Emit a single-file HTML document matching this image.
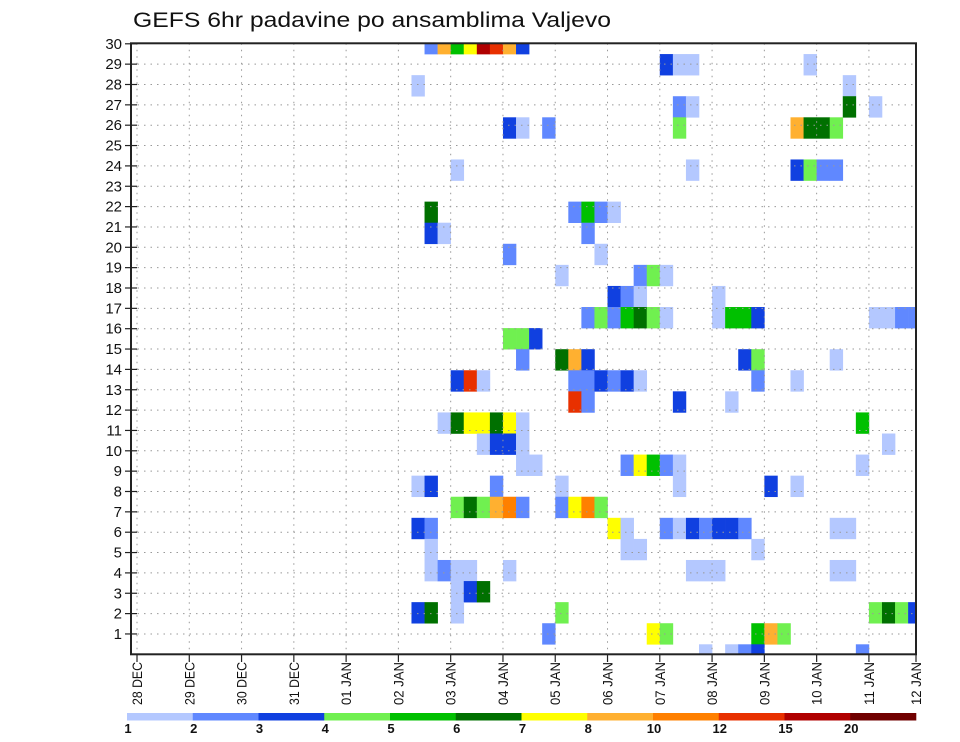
<!DOCTYPE html>
<html><head><meta charset="utf-8"><style>
html,body{margin:0;padding:0;background:#fff;}
svg{display:block;font-family:"Liberation Sans",sans-serif;}
</style></head><body>
<svg id="chart" width="960" height="742" viewBox="0 0 960 742" xmlns="http://www.w3.org/2000/svg">
<text x="133" y="27" font-size="21" textLength="478" lengthAdjust="spacingAndGlyphs" fill="#111">GEFS 6hr padavine po ansamblima Valjevo</text>
<defs><clipPath id="plotclip"><rect x="131" y="43.3" width="785" height="611"/></clipPath></defs>
<g id="cells" clip-path="url(#plotclip)"></g>
<g id="grid"></g>
<rect x="131" y="43.3" width="785" height="611" fill="none" stroke="#222" stroke-width="2"/>
<g id="yaxis"></g>
<g id="xaxis"></g>
<g id="colorbar"></g>
</svg>
<script>
const dayLabels = ["28 DEC","29 DEC","30 DEC","31 DEC","01 JAN","02 JAN","03 JAN","04 JAN","05 JAN","06 JAN","07 JAN","08 JAN","09 JAN","10 JAN","11 JAN","12 JAN"];
const yTicks = [1,2,3,4,5,6,7,8,9,10,11,12,13,14,15,16,17,18,19,20,21,22,23,24,25,26,27,28,29,30];
const levelLabels = ["1","2","3","4","5","6","7","8","10","12","15","20"];
const levelColors = ["#b4c8ff","#6088ff","#1040e0","#70f050","#00c000","#007000","#ffff00","#ffb030","#ff8000","#e83000","#b00000","#700000"];
// cell data: member slot (0 = bottom), 6-hour step since 28 DEC 00z, colour level index
const cellSlot = [29,29,29,29,29,29,29,29, 28,28,28,28, 27,27, 26,26,26,26, 25,25,25,25,25,25,25,25, 23,23,23,23,23,23, 21,21,21,21,21, 20,20,20, 19,19, 18,18,18,18, 17,17,17,17, 16,16,16,16,16,16,16,16,16,16,16,16,16,16,16, 15,15,15, 14,14,14,14,14,14,14, 13,13,13,13,13,13,13,13,13,13,13, 12,12,12,12, 11,11,11,11,11,11,11,11, 10,10,10,10,10, 9,9,9,9,9,9,9,9, 8,8,8,8,8,8,8, 7,7,7,7,7,7,7,7,7,7, 6,6,6,6,6,6,6,6,6,6,6,6,6, 5,5,5,5, 4,4,4,4,4,4,4,4,4,4, 3,3,3, 2,2,2,2,2,2,2,2, 1,1,1,1,1,1, 0,0,0,0,0];
const cellStep = [22,23,24,25,26,27,28,29, 40,41,42,51, 21,54, 41,42,54,56, 28,29,31,41,50,51,52,53, 24,42,50,51,52,53, 22,33,34,35,36, 22,23,34, 28,35, 32,38,39,40, 36,37,38,44, 34,35,36,37,38,39,40,44,45,46,47,56,57,58,59, 28,29,30, 29,32,33,34,46,47,53, 24,25,26,33,34,35,36,37,38,47,50, 33,34,41,45, 23,24,25,26,27,28,29,55, 26,27,28,29,57, 29,30,37,38,39,40,41,55, 21,22,27,32,41,48,50, 24,25,26,27,28,29,32,33,34,35, 21,22,36,37,40,41,42,43,44,45,46,53,54, 22,37,38,47, 22,23,24,25,28,42,43,44,53,54, 24,25,26, 21,22,24,32,56,57,58,59, 31,39,40,47,48,49, 43,45,46,47,55];
const cellLevel = [1,7,4,6,10,9,7,2, 2,0,0,0, 0,0, 1,0,5,0, 2,0,1,3,7,5,5,3, 0,0,2,3,1,1, 5,1,4,1,0, 2,0,1, 1,0, 0,1,3,0, 2,1,0,0, 1,3,1,4,5,3,0,0,4,4,2,0,0,1,1, 3,3,2, 1,5,7,2,2,3,0, 2,9,0,1,1,2,1,2,0,1,0, 9,1,2,0, 0,5,6,6,5,6,0,4, 0,2,2,0,0, 0,0,1,6,4,1,0,0, 0,2,1,0,0,2,0, 3,5,3,7,8,1,1,6,8,3, 2,1,6,0,1,0,2,1,2,2,1,0,0, 0,0,0,0, 0,1,0,0,0,0,0,0,0,0, 0,2,5, 2,5,0,3,3,5,3,2, 1,6,3,4,7,3, 0,0,1,2,1];

const NS = "http://www.w3.org/2000/svg";
const X0 = 137, DAYW = 52.28, STEPW = DAYW/4;
const xDay = d => X0 + d*DAYW;
const xStep = k => X0 + k*STEPW;
const YB = 654.3, ROWH = 20.35;
const yRow = r => YB - r*ROWH;
const SLOTH = 21.08;
const ySlotTop = s => 644.3 - s*SLOTH;
function mk(tag, attrs, parent){const e=document.createElementNS(NS,tag);for(const k in attrs)e.setAttribute(k,attrs[k]);parent.appendChild(e);return e;}

const cells = document.getElementById('cells');
for(let i=0;i<cellStep.length;i++){
  const r = mk('rect',{x:xStep(cellStep[i]).toFixed(2),y:ySlotTop(cellSlot[i]).toFixed(2),width:(STEPW+0.3).toFixed(2),height:(SLOTH+0.3).toFixed(2),fill:levelColors[cellLevel[i]]},cells);
  
  
}

const grid = document.getElementById('grid');
for(let r=1;r<30;r++){
  const l = mk('line',{x1:131,x2:916,y1:yRow(r),y2:yRow(r),stroke:'#999','stroke-width':1,'stroke-dasharray':'1.5 5'},grid);
  
  
}
for(let d=0;d<15;d++){
  const l = mk('line',{x1:xDay(d),x2:xDay(d),y1:43.3,y2:654.3,stroke:'#999','stroke-width':1,'stroke-dasharray':'1.5 5'},grid);
  
  
}

const ya = document.getElementById('yaxis');
yTicks.forEach(v=>{
  const y = yRow(v);
  const t = mk('line',{x1:125,x2:137,y1:y,y2:y,stroke:'#222','stroke-width':1.2},ya);
  
  
  const tx = mk('text',{x:122,y:y+5,'font-size':15,'text-anchor':'end',fill:'#111'},ya);
  tx.textContent = v;
  
  
});

const xa = document.getElementById('xaxis');
dayLabels.forEach((lab,d)=>{
  const x = Math.min(xDay(d), 916);
  const t = mk('line',{x1:x,x2:x,y1:654.3,y2:662,stroke:'#222','stroke-width':1.2},xa);
  
  
  const tx = mk('text',{x:0,y:0,'font-size':14,'text-anchor':'end',fill:'#111',textLength:43,lengthAdjust:'spacingAndGlyphs',transform:`translate(${x+5},662) rotate(-90)`},xa);
  tx.textContent = lab;
  
  
});

const cb = document.getElementById('colorbar');
const CB0 = 127, CBW = (916-127)/levelColors.length;
levelColors.forEach((c,i)=>{
  const r = mk('rect',{x:CB0+i*CBW,y:713,width:CBW+0.3,height:7.5,fill:c},cb);
  
  
});
levelLabels.forEach((lab,i)=>{
  const tx = mk('text',{x:CB0+i*CBW+1,y:733,'font-size':13,'font-weight':'bold','text-anchor':'middle',fill:'#111'},cb);
  tx.textContent = lab;
  
  
});
</script>
</body></html>
